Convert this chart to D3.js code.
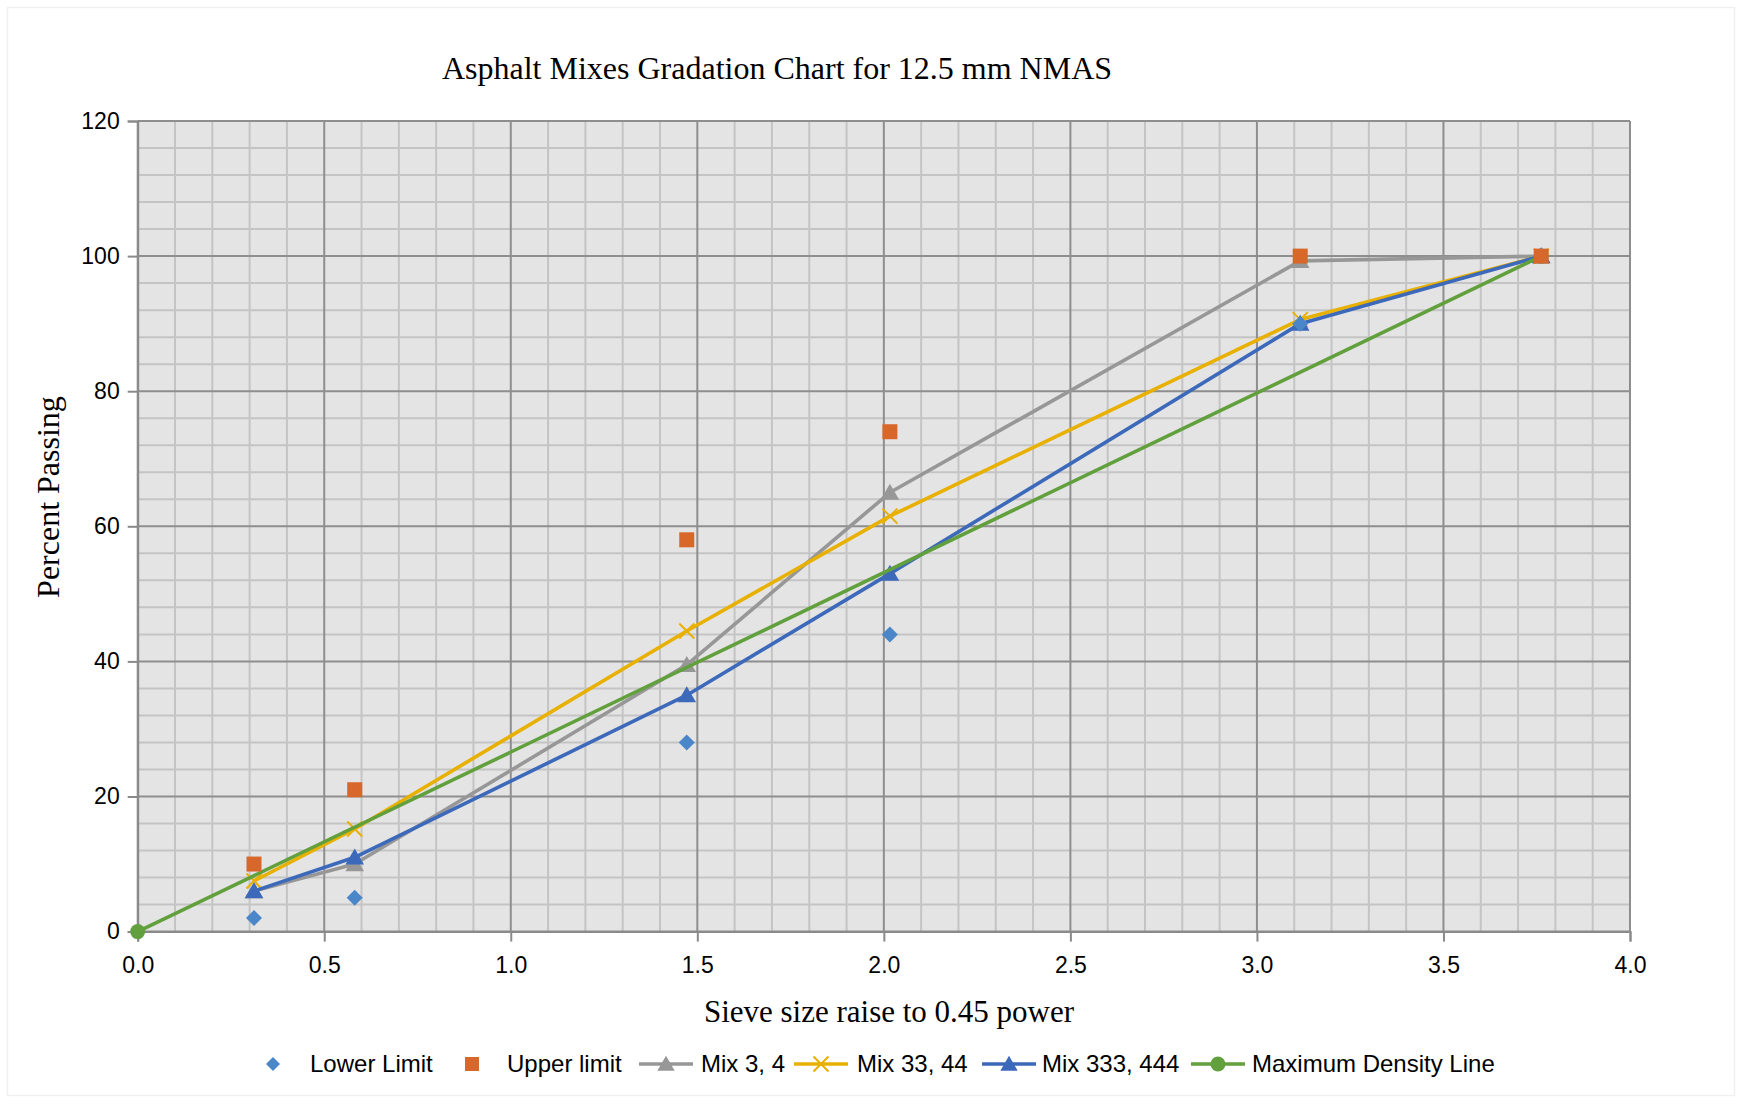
<!DOCTYPE html>
<html><head><meta charset="utf-8">
<script src="https://cdn.jsdelivr.net/npm/d3@7"></script>
<style>body{margin:0;background:#fff}svg{display:block}</style>
</head><body>
<svg id="chart" width="1741" height="1101"></svg>
<script>
// ---- data ----
const sieveX = [0.3117, 0.5817, 1.4717, 2.0162, 3.116, 3.762];
const lowerLimit = [2, 5, 28, 44, 90, 100];
const upperLimit = [10, 21, 58, 74, 100, 100];
const mix34 = [6, 10, 39.5, 65, 99.3, 100];
const mix3344 = [7.5, 15.2, 44.5, 61.5, 90.6, 100];
const mix333444 = [6, 11, 35, 53, 90, 100];
const mdlX = [0, 3.762];
const mdlY = [0, 100];
const xTicks = [0, 0.5, 1.0, 1.5, 2.0, 2.5, 3.0, 3.5, 4.0];
const yTicks = [0, 20, 40, 60, 80, 100, 120];
const seriesNames = ["Lower Limit", "Upper limit", "Mix 3, 4", "Mix 33, 44", "Mix 333, 444", "Maximum Density Line"];
const titleText = "Asphalt Mixes Gradation Chart for 12.5 mm NMAS";
const xTitle = "Sieve size raise to 0.45 power";
const yTitle = "Percent Passing";

// ---- styles ----
const C = {lower:"#4A86C8", upper:"#D8672B", gray:"#979797", yellow:"#E8B000", blue:"#3D69BA", green:"#62A03D"};
const svg = d3.select("#chart");
const L = 137.7, R = 1630, T = 121, B = 931.6;
const x = d3.scaleLinear().domain([0, 4]).range([L, R]);
const y = d3.scaleLinear().domain([0, 120]).range([B, T]);

svg.append("rect").attr("x",7.5).attr("y",7.5).attr("width",1727).attr("height",1088)
  .attr("fill","#fff").attr("stroke","#f0f0f0").attr("stroke-width",1.5);

svg.append("rect").attr("x",L).attr("y",T).attr("width",R-L).attr("height",B-T).attr("fill","#E4E4E4");

// minor grid
const g = svg.append("g");
const minorX = d3.range(0, 4.0001, 0.1).filter(v => Math.abs(v*2 - Math.round(v*2)) > 1e-6);
const minorY = d3.range(0, 120.001, 4).filter(v => v % 20 !== 0);
g.selectAll(".mx").data(minorX).join("line").attr("x1",d=>x(d)).attr("x2",d=>x(d)).attr("y1",T).attr("y2",B)
  .attr("stroke","#C4C4C4").attr("stroke-width",2);
g.selectAll(".my").data(minorY).join("line").attr("y1",d=>y(d)).attr("y2",d=>y(d)).attr("x1",L).attr("x2",R)
  .attr("stroke","#C4C4C4").attr("stroke-width",2);
// major grid
g.selectAll(".Mx").data(xTicks).join("line").attr("x1",d=>x(d)).attr("x2",d=>x(d)).attr("y1",T).attr("y2",B)
  .attr("stroke","#8E8E8E").attr("stroke-width",2);
g.selectAll(".My").data(yTicks).join("line").attr("y1",d=>y(d)).attr("y2",d=>y(d)).attr("x1",L).attr("x2",R)
  .attr("stroke","#8E8E8E").attr("stroke-width",2);

// axes
const xAxis = d3.axisBottom(x).tickValues(xTicks).tickFormat(d3.format(".1f")).tickSize(10).tickPadding(15);
const yAxis = d3.axisLeft(y).tickValues(yTicks).tickSize(10).tickPadding(8);
const gx = svg.append("g").attr("transform",`translate(0,${B})`).call(xAxis);
const gy = svg.append("g").attr("transform",`translate(${L},0)`).call(yAxis);
[gx, gy].forEach(a => {
  a.select(".domain").attr("stroke","#8A8A8A").attr("stroke-width",2);
  a.selectAll(".tick line").attr("stroke","#8A8A8A").attr("stroke-width",2);
  a.selectAll("text").attr("font-family","Liberation Sans, Arial, sans-serif").attr("font-size",23).attr("fill","#000");
});

// titles
svg.append("text").attr("x",777).attr("y",79).attr("text-anchor","middle")
  .attr("font-family","Liberation Serif, Times New Roman, serif").attr("font-size",32).text(titleText);
svg.append("text").attr("x",889).attr("y",1022).attr("text-anchor","middle")
  .attr("font-family","Liberation Serif, Times New Roman, serif").attr("font-size",31).text(xTitle);
svg.append("text").attr("transform","translate(59,497) rotate(-90)").attr("text-anchor","middle")
  .attr("font-family","Liberation Serif, Times New Roman, serif").attr("font-size",32).text(yTitle);

// markers
function marker(sel, type, color, size) {
  const s = size;
  if (type === "diamond") sel.append("path").attr("d",`M0,${-s/2}L${s/2},0L0,${s/2}L${-s/2},0Z`).attr("fill",color);
  else if (type === "square") sel.append("rect").attr("x",-s/2).attr("y",-s/2).attr("width",s).attr("height",s).attr("fill",color);
  else if (type === "triangle") sel.append("path").attr("d",`M0,${-s*0.55}L${s*0.58},${s*0.45}L${-s*0.58},${s*0.45}Z`).attr("fill",color);
  else if (type === "x") sel.append("path").attr("d",`M${-s/2},${-s/2}L${s/2},${s/2}M${s/2},${-s/2}L${-s/2},${s/2}`).attr("stroke",color).attr("stroke-width",2).attr("fill","none");
  else if (type === "circle") sel.append("circle").attr("r",s/2).attr("fill",color);
}

const line = d3.line().x(d=>x(d[0])).y(d=>y(d[1]));
const lineSeries = [
  {vals: mix34, color: C.gray, m: "triangle"},
  {vals: mix3344, color: C.yellow, m: "x"},
  {vals: mix333444, color: C.blue, m: "triangle"},
];
const plot = svg.append("g");
lineSeries.forEach(s => {
  const pts = sieveX.map((xv,i)=>[xv, s.vals[i]]);
  plot.append("path").attr("d", line(pts)).attr("fill","none").attr("stroke", s.color).attr("stroke-width",3.6).attr("stroke-linejoin","round");
  pts.forEach(p => marker(plot.append("g").attr("transform",`translate(${x(p[0])},${y(p[1])})`), s.m, s.color, s.m === "x" ? 15 : 16));
});
const mdlPts = mdlX.map((v,i)=>[v, mdlY[i]]);
plot.append("path").attr("d", line(mdlPts)).attr("fill","none").attr("stroke",C.green).attr("stroke-width",3.6);
mdlPts.forEach(p => marker(plot.append("g").attr("transform",`translate(${x(p[0])},${y(p[1])})`), "circle", C.green, 15));

sieveX.forEach((xv,i) => marker(plot.append("g").attr("transform",`translate(${x(xv)},${y(lowerLimit[i])})`), "diamond", C.lower, 16));
sieveX.forEach((xv,i) => marker(plot.append("g").attr("transform",`translate(${x(xv)},${y(upperLimit[i])})`), "square", C.upper, 15));

// legend
const ly = 1064;
const legItems = [
  {name: seriesNames[0], color: C.lower, m: "diamond", line: false, mx: 273, tx: 310},
  {name: seriesNames[1], color: C.upper, m: "square", line: false, mx: 472, tx: 507},
  {name: seriesNames[2], color: C.gray, m: "triangle", line: true, mx: 666, tx: 701},
  {name: seriesNames[3], color: C.yellow, m: "x", line: true, mx: 821, tx: 857},
  {name: seriesNames[4], color: C.blue, m: "triangle", line: true, mx: 1009, tx: 1042},
  {name: seriesNames[5], color: C.green, m: "circle", line: true, mx: 1218, tx: 1252},
];
const lg = svg.append("g");
legItems.forEach(it => {
  if (it.line) lg.append("line").attr("x1",it.mx-27).attr("x2",it.mx+27).attr("y1",ly).attr("y2",ly).attr("stroke",it.color).attr("stroke-width",3.6);
  marker(lg.append("g").attr("transform",`translate(${it.mx},${ly})`), it.m, it.color, it.line ? 15 : 14);
  lg.append("text").attr("x",it.tx).attr("y",ly+8).attr("font-family","Liberation Sans, Arial, sans-serif").attr("font-size",24).text(it.name);
});
</script>
</body></html>
